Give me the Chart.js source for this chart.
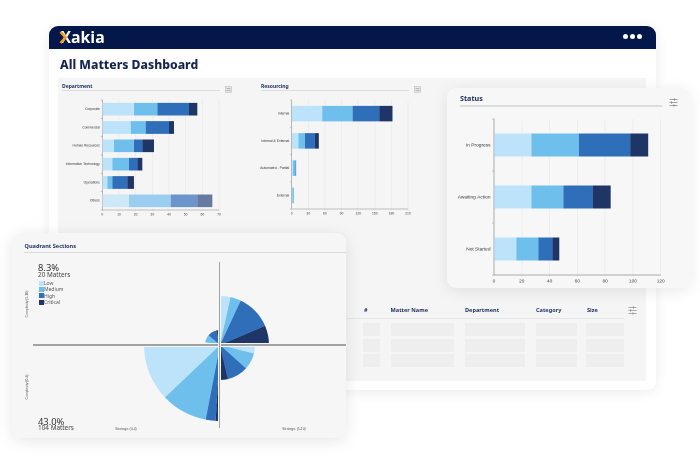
<!DOCTYPE html>
<html>
<head>
<meta charset="utf-8">
<title>All Matters Dashboard</title>
<script src="https://cdn.jsdelivr.net/npm/chart.js@4"></script>
<style>
  html, body { margin: 0; padding: 0; background: #fff; }
  body { width: 700px; height: 456px; overflow: hidden; position: relative; font-family: "Noto Sans", "Open Sans", sans-serif; color: #14244f; }
  #page { position: absolute; left: 0; top: 0; width: 700px; height: 456px; filter: blur(0.3px); }
  .abs { position: absolute; white-space: nowrap; line-height: 1; }
  .card { position: absolute; border-radius: 9px; }
  canvas { position: absolute; }
  .rule { position: absolute; background: #dcdcdc; }
  .title { font-weight: 700; color: #1c2d5c; transform: translateY(-50%); }
  .th { font-weight: 700; font-size: 5.6px; color: #1c2d5c; transform: translateY(-50%); }
  .cell { position: absolute; background: #eeeeee; }
  .tiny { font-size: 3.4px; color: #555; font-family: "Liberation Sans", sans-serif; transform: translate(-50%, -50%); }
  .vert { transform: translate(-50%, -50%) rotate(-90deg); }
  .pct { font-size: 9.4px; color: #333; transform: translateY(-50%); }
  .cnt { font-size: 6.4px; color: #444; transform: translateY(-50%); }
  .lg { font-size: 5px; color: #555; transform: translateY(-50%); }
  .sw { position: absolute; width: 5px; height: 5px; }
  .dot { position: absolute; width: 5px; height: 5px; border-radius: 50%; background: #fff; top: 34px; }
  .line { position: absolute; background: #a2a2a2; box-shadow: 0 0 0 1px #f5f5f5; }
</style>
</head>
<body>
<div id="page">
  <!-- main dashboard card -->
  <div class="card" style="left:49px;top:26px;width:607px;height:364px;background:#fff;box-shadow:0 2px 14px rgba(0,0,0,.08)"></div>
  <div style="position:absolute;left:49px;top:26px;width:607px;height:23px;background:#03174a;border-radius:9px 9px 0 0"></div>
  <div class="abs" style="left:60.5px;top:29.5px;font-size:15.8px;font-weight:700;color:#fff;font-family:'Open Sans',sans-serif">Xakia</div>
  <svg style="position:absolute;left:58px;top:30px" width="12" height="15"><polyline points="2.5,1.8 7.5,7.5 2.5,13" fill="none" stroke="#f39a1d" stroke-width="2.6"/></svg>
  <div class="dot" style="left:622.5px"></div><div class="dot" style="left:629.5px"></div><div class="dot" style="left:636.5px"></div>
  <div class="abs" style="left:60px;top:59px;font-size:12.2px;font-weight:800;color:#14244f">All Matters Dashboard</div>
  <div style="position:absolute;left:58px;top:78px;width:588px;height:303px;background:#f5f5f5"></div>

  <div class="abs title" style="left:62px;top:86px;font-size:5px">Department</div>
  <div class="rule" style="left:62px;top:90px;width:158px;height:1.2px"></div>
  <svg style="position:absolute;left:224.5px;top:85.5px" width="7" height="7"><rect x=".5" y=".5" width="6" height="6" fill="#e6e6e6" stroke="#b5b5b5" stroke-width=".5"/><path d="M1.5 2.5h4M1.5 4.5h4" stroke="#888" stroke-width=".5"/></svg>
  <canvas id="deptChart"></canvas>

  <div class="abs title" style="left:261px;top:86px;font-size:5px">Resourcing</div>
  <div class="rule" style="left:261px;top:90px;width:148px;height:1.2px"></div>
  <svg style="position:absolute;left:413.5px;top:85.5px" width="7" height="7"><rect x=".5" y=".5" width="6" height="6" fill="#e6e6e6" stroke="#b5b5b5" stroke-width=".5"/><path d="M1.5 2.5h4M1.5 4.5h4" stroke="#888" stroke-width=".5"/></svg>
  <canvas id="resChart"></canvas>

  <!-- table -->
  <div class="abs th" style="left:364px;top:310.5px">#</div>
  <div class="abs th" style="left:390.5px;top:310.5px">Matter Name</div>
  <div class="abs th" style="left:465px;top:310.5px">Department</div>
  <div class="abs th" style="left:536px;top:310.5px">Category</div>
  <div class="abs th" style="left:587px;top:310.5px">Size</div>
  <div class="rule" style="left:346px;top:318px;width:278px;height:.8px;background:#e6e6e6"></div>
  <svg style="position:absolute;left:628px;top:306px" width="9" height="9"><path d="M0.5 1.5h8M0.5 4.5h8M0.5 7.5h8M5.5 .3v2.4M2.5 3.3v2.4M5 6.3v2.4" stroke="#8a8a8a" stroke-width=".7" fill="none"/></svg>
  <div id="cells"></div>

  <!-- status card -->
  <div class="card" style="left:447px;top:88px;width:243px;height:200px;background:#f7f7f7;box-shadow:0 3px 16px rgba(0,0,0,.09)"></div>
  <div class="abs title" style="left:460px;top:99px;font-size:7.2px">Status</div>
  <div class="rule" style="left:460px;top:105px;width:202px;height:1.5px"></div>
  <svg style="position:absolute;left:669px;top:98px" width="9" height="9"><path d="M0.5 1.5h8M0.5 4.5h8M0.5 7.5h8M5.5 .3v2.4M2.5 3.3v2.4M5 6.3v2.4" stroke="#7a7a7a" stroke-width=".7" fill="none"/></svg>
  <canvas id="statusChart"></canvas>

  <!-- quadrant card -->
  <div class="card" style="left:12px;top:233px;width:334px;height:205px;background:#f6f6f6;box-shadow:0 3px 16px rgba(0,0,0,.1)"></div>
  <div class="abs title" style="left:24.5px;top:246.5px;font-size:5.6px">Quadrant Sections</div>
  <div class="rule" style="left:24px;top:251.5px;width:322px;height:1px"></div>
  <canvas id="quadChart"></canvas>
  <div class="line" style="left:33px;top:344.2px;width:313px;height:1.6px"></div>
  <div class="line" style="left:218.6px;top:262px;width:1.6px;height:166px"></div>
  <div class="abs pct" style="left:38px;top:268px">8.3%</div>
  <div class="abs cnt" style="left:38px;top:274.5px">20 Matters</div>
  <div id="legend"></div>
  <div class="abs pct" style="left:38px;top:421.5px">43.0%</div>
  <div class="abs cnt" style="left:38px;top:428px">104 Matters</div>
  <div class="abs tiny vert" style="left:28px;top:304px">Complexity (5-10)</div>
  <div class="abs tiny vert" style="left:28px;top:387px">Complexity (0-4)</div>
  <div class="abs tiny" style="left:126px;top:430px">Strategic (0-4)</div>
  <div class="abs tiny" style="left:294px;top:430px">Strategic (5-10)</div>
</div>

<script>
const severity = ['Low', 'Medium', 'High', 'Critical'];
const colours = ['#bde3fa', '#6fbfec', '#2f6fba', '#1f3566'];
const faded = ['#cfe8f8', '#9acdf0', '#6c96cb', '#667a9f'];

const deptLabels = ['Corporate', 'Commercial', 'Human Resources', 'Information Technology', 'Operations', 'Others'];
const deptLow = [19, 17, 7, 6, 3, 16];
const deptMedium = [14, 9, 12, 10, 3, 25];
const deptHigh = [19, 14, 5, 5, 9, 16];
const deptCritical = [5, 3, 7, 3, 4, 9];

const resLabels = ['Internal', 'Internal & External', 'Automated - Partial', 'External'];
const resLow = [55, 12, 2, 1];
const resMedium = [55, 12, 5, 3];
const resHigh = [48, 18, 1, 0];
const resCritical = [24, 7, 0, 0];

const statusLabels = ['In Progress', 'Awaiting Action', 'Not Started'];
const statusLow = [27, 27, 16];
const statusMedium = [34, 23, 16];
const statusHigh = [37, 21, 10];
const statusCritical = [13, 13, 5];

// quadrant slices clockwise from 12 o'clock, radius and sweep in degrees
const quadRadius = [49, 49, 49, 49, 35, 35, 35, 35, 76, 76, 76, 76, 15, 15, 15, 15];
const quadAngle = [12.4, 12.6, 42, 23, 14, 28, 35, 13, 3.3, 7.6, 35.6, 43.5, 11, 29, 36, 14];
const quadColour = [0, 1, 2, 3, 0, 1, 2, 3, 3, 2, 1, 0, 0, 1, 2, 3];

const tableColumns = [[363, 17], [391, 63], [465, 60], [535.5, 41], [586, 38]];
const tableRows = [[323, 13], [339, 12.5], [354, 13]];

const cells = document.getElementById('cells');
tableRows.forEach(r => tableColumns.forEach(c => {
  const d = document.createElement('div');
  d.className = 'cell';
  d.style.cssText = `left:${c[0]}px;top:${r[0]}px;width:${c[1]}px;height:${r[1]}px`;
  cells.appendChild(d);
}));

const legend = document.getElementById('legend');
severity.forEach((name, i) => {
  const y = 283 + i * 6.4;
  legend.innerHTML += `<div class="sw" style="left:38.5px;top:${y - 2.5}px;background:${colours[i]}"></div>` +
    `<div class="abs lg" style="left:44px;top:${y}px">${name}</div>`;
});

function barChart(id, box, plot, labels, series, xMax, step, opts) {
  const canvas = document.getElementById(id);
  canvas.style.left = box.x + 'px';
  canvas.style.top = box.y + 'px';
  canvas.width = box.w;
  canvas.height = box.h;
  return new Chart(canvas, {
    type: 'bar',
    data: {
      labels: labels,
      datasets: series.map((values, i) => ({
        label: severity[i],
        data: values,
        backgroundColor: opts.fadeLast
          ? values.map((v, k) => k === values.length - 1 ? faded[i] : colours[i])
          : colours[i],
        barPercentage: opts.bar,
        categoryPercentage: 1
      }))
    },
    options: {
      indexAxis: 'y',
      responsive: false,
      animation: false,
      devicePixelRatio: 2,
      layout: { padding: { left: 0, top: plot.top, right: plot.right, bottom: 0 } },
      plugins: { legend: { display: false }, tooltip: { enabled: false } },
      scales: {
        x: {
          stacked: true,
          min: 0,
          max: xMax,
          ticks: { stepSize: step, maxRotation: 0, autoSkip: false, padding: opts.pad, color: '#444', font: { size: opts.xFont, family: 'Liberation Sans' } },
          grid: { color: '#e8e8e8', lineWidth: 0.6, tickLength: opts.tick },
          border: { color: '#aaa', width: opts.axis },
          afterFit: s => { s.height = plot.bottom; }
        },
        y: {
          stacked: true,
          ticks: { padding: opts.pad, color: '#333', font: { size: opts.yFont, family: 'Liberation Sans' } },
          grid: { drawOnChartArea: false, color: '#999', lineWidth: 0.6, tickLength: opts.tick },
          border: { color: '#aaa', width: opts.axis },
          afterFit: s => { s.width = plot.left; }
        }
      }
    }
  });
}

barChart('deptChart', { x: 60, y: 95, w: 165, h: 125 }, { left: 42.3, top: 5, right: 6, bottom: 10 },
  deptLabels, [deptLow, deptMedium, deptHigh, deptCritical], 70, 10,
  { bar: 0.69, xFont: 3.4, yFont: 3.3, tick: 1.5, pad: 1, axis: 0.8, fadeLast: true });

barChart('resChart', { x: 250, y: 95, w: 165, h: 125 }, { left: 41.7, top: 5, right: 7, bottom: 11 },
  resLabels, [resLow, resMedium, resHigh, resCritical], 210, 30,
  { bar: 0.57, xFont: 3.4, yFont: 3.4, tick: 1.5, pad: 1, axis: 0.8 });

barChart('statusChart', { x: 450, y: 114, w: 222, h: 172 }, { left: 44, top: 5, right: 11.3, bottom: 11 },
  statusLabels, [statusLow, statusMedium, statusHigh, statusCritical], 120, 20,
  { bar: 0.44, xFont: 4.8, yFont: 4.8, tick: 2, pad: 1.5, axis: 1 });

const quad = document.getElementById('quadChart');
quad.style.left = '120px';
quad.style.top = '245px';
quad.width = 200;
quad.height = 200;
new Chart(quad, {
  type: 'polarArea',
  data: {
    labels: quadRadius.map((r, i) => severity[quadColour[i]]),
    datasets: [{
      data: quadRadius,
      backgroundColor: quadColour.map(c => colours[c]),
      borderWidth: 0,
      angle: ctx => quadAngle[ctx.dataIndex]
    }]
  },
  options: {
    responsive: false,
    animation: false,
    devicePixelRatio: 2,
    plugins: { legend: { display: false }, tooltip: { enabled: false } },
    scales: { r: { display: false, min: 0, max: 100, startAngle: 0 } }
  }
});
</script>
</body>
</html>
